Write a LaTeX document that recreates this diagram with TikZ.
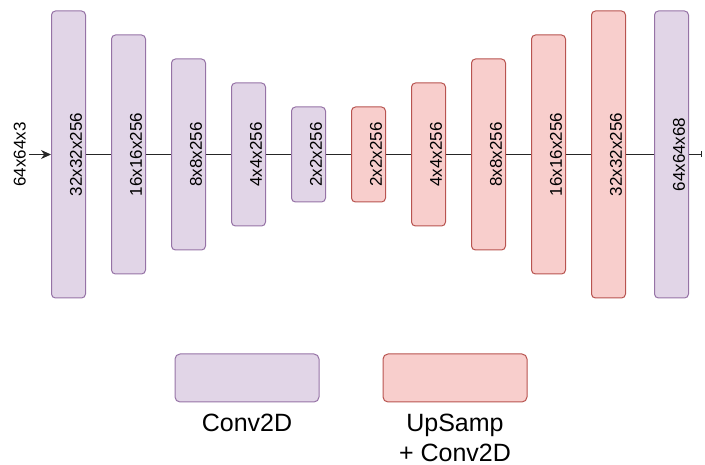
\documentclass[tikz,border=0pt]{standalone}
\usepackage{fontspec}
\setmainfont{Liberation Sans}
\usetikzlibrary{arrows.meta, positioning}
\definecolor{conv-fill}{RGB}{225,213,231}
\definecolor{conv-line}{RGB}{150,115,166}
\definecolor{up-fill}{RGB}{248,206,204}
\definecolor{up-line}{RGB}{184,84,80}
\newcommand{\vlabel}[1]{\hspace*{15pt}\rotatebox{90}{#1}}

\begin{document}
\begin{tikzpicture}[
  x=1pt, y=-1pt,
  every node/.style={font=\fontsize{17}{20}\selectfont, inner sep=0pt},
  layer/.style={draw, rounded corners=4pt, line width=1pt, minimum width=34pt},
  conv/.style={layer, fill=conv-fill, draw=conv-line},
  upconv/.style={layer, fill=up-fill, draw=up-line},
  link/.style={line width=1pt, draw=black!85},
  legend/.style={font=\fontsize{25}{30}\selectfont, align=center},
]
  \useasboundingbox (0,0) rectangle (705,465);
  % encoder
  \node[conv, minimum height=287pt] (c1) at (68.5,154.5) {\vlabel{32x32x256}};
  \node[conv, minimum height=239pt, right=25pt of c1] (c2) {\vlabel{16x16x256}};
  \node[conv, minimum height=191pt, right=25pt of c2] (c3) {\vlabel{8x8x256}};
  \node[conv, minimum height=143pt, right=25pt of c3] (c4) {\vlabel{4x4x256}};
  \node[conv, minimum height=95pt, right=25pt of c4] (c5) {\vlabel{2x2x256}};
  % decoder
  \node[upconv, minimum height=95pt, right=25pt of c5] (u1) {\vlabel{2x2x256}};
  \node[upconv, minimum height=143pt, right=25pt of u1] (u2) {\vlabel{4x4x256}};
  \node[upconv, minimum height=191pt, right=25pt of u2] (u3) {\vlabel{8x8x256}};
  \node[upconv, minimum height=239pt, right=25pt of u3] (u4) {\vlabel{16x16x256}};
  \node[upconv, minimum height=287pt, right=25pt of u4] (u5) {\vlabel{32x32x256}};
  \node[conv, minimum height=287pt, right=28pt of u5] (outconv) {\vlabel{64x64x68}};

  % input and output
  \node[inner sep=3pt, left=22pt of c1] (in) {\rotatebox{90}{64x64x3}};
  \coordinate[right=13pt of outconv] (out);

  \draw[link, -{Stealth[length=10pt, width=9pt]}] (in) -- (c1);
  \draw[link] (c1) -- (c2);
  \draw[link] (c2) -- (c3);
  \draw[link] (c3) -- (c4);
  \draw[link] (c4) -- (c5);
  \draw[link] (c5) -- (u1);
  \draw[link] (u1) -- (u2);
  \draw[link] (u2) -- (u3);
  \draw[link] (u3) -- (u4);
  \draw[link] (u4) -- (u5);
  \draw[link] (u5) -- (outconv);
  \draw[link, -{Bar[width=6pt]}] (outconv) -- (out);

  % legend
  \node[conv, minimum width=144pt, minimum height=48pt, rounded corners=5pt] (keyconv) at (247,378) {};
  \node[upconv, minimum width=144pt, minimum height=48pt, rounded corners=5pt] (keyup) at (455,378) {};
  \node[legend, below=11pt of keyconv] (keyconvtext) {Conv2D};
  \node[legend, below=11pt of keyup] (keyuptext) {UpSamp\\+ Conv2D};
\end{tikzpicture}
\end{document}
